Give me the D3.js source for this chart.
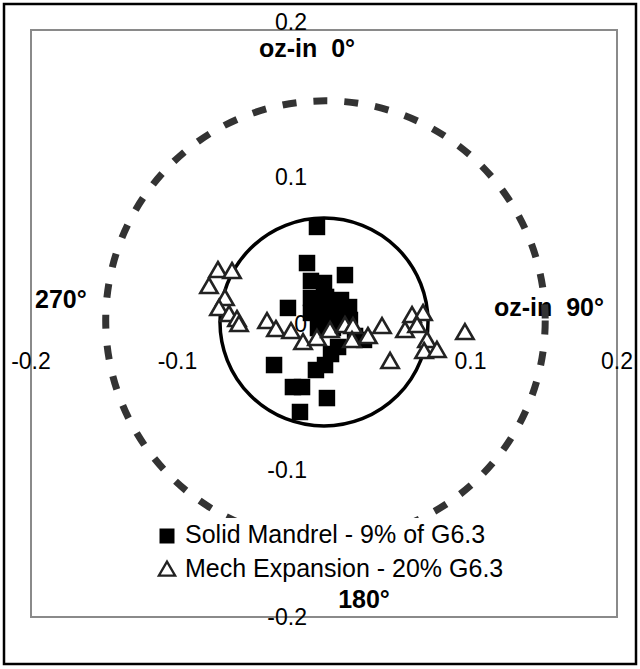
<html>
  <head>
    <title>Polar torque plot</title>
    <script type="text/javascript" src="https://d3js.org/d3.v7.min.js"></script>
    <style type="text/css">
      body { margin: 0; background: #fff; }
      text { font-family: "Liberation Sans", Arial, sans-serif; }
    </style>
  </head>
  <body>
    <script type="text/javascript">

      // Solid Mandrel - 9% of G6.3 (oz-in)
      var mandrelX = [-0.0048, -0.0116, 0.0143, -0.0089, 0.0000, -0.0246, -0.0089, 0.0014, 0.0116,
                      0.0171, -0.0089, 0.0014, 0.0116, 0.0177, -0.0041, 0.0061, 0.0212, 0.0273,
                      0.0096, 0.0048, -0.0341, -0.0055, 0.0007, -0.0212, -0.0150, 0.0020, -0.0164];
      var mandrelY = [0.0658, 0.0412, 0.0330, 0.0290, 0.0276, 0.0106, 0.0174, 0.0181, 0.0160,
                      0.0112, 0.0072, 0.0072, 0.0058, 0.0024, -0.0031, -0.0031, -0.0085, -0.0112,
                      -0.0160, -0.0208, -0.0283, -0.0317, -0.0283, -0.0433, -0.0433, -0.0508, -0.0603];

      // Mech Expansion - 20% G6.3 (oz-in)
      var expX = [-0.0724, -0.0628, -0.0785, -0.0676, -0.0717, -0.0648, -0.0594, -0.0580, -0.0389,
                  -0.0328, -0.0225, -0.0143, -0.0048, 0.0041, 0.0143, 0.0198, 0.0191, 0.0300,
                  0.0396, 0.0451, 0.0601, 0.0676, 0.0553, 0.0635, 0.0703, 0.0683, 0.0771, 0.0962];
      var expY = [0.0351, 0.0344, 0.0242, 0.0160, 0.0092, 0.0051, 0.0017, -0.0017, 0.0003,
                  -0.0051, -0.0065, -0.0140, -0.0112, -0.0058, -0.0024, -0.0031, -0.0126, -0.0099,
                  -0.0031, -0.0269, 0.0044, 0.0058, -0.0058, -0.0024, -0.0126, -0.0201, -0.0194, -0.0072];

      // reference circles: [cx, cy, r]
      var limitCircle = [0.001, 0.002, 0.150];
      var spreadCircle = [0.000, 0.001, 0.071];

      var xTicks = [-0.2, -0.1, 0.1, 0.2];
      var yTicks = [0.2, 0.1, 0, -0.1, -0.2];
      var legendNames = ["Solid Mandrel - 9% of G6.3", "Mech Expansion - 20% G6.3"];

      //Width and height
      var w = 640;
      var h = 669;

      var x = d3.scaleLinear().domain([-0.2, 0.2]).range([31, 617]);
      var y = d3.scaleLinear().domain([-0.2, 0.2]).range([617, 30]);
      var px = function(r) { return x(r) - x(0); };

      var svg = d3.select("body")
            .append("svg")
            .attr("width", w)
            .attr("height", h);

      //outer frame
      svg.append("rect")
         .attr("x", 4).attr("y", 4)
         .attr("width", w - 8).attr("height", h - 9)
         .attr("fill", "none").attr("stroke", "#000").attr("stroke-width", 2.5);

      //plot area
      svg.append("rect")
         .attr("x", x(-0.2)).attr("y", y(0.2))
         .attr("width", x(0.2) - x(-0.2)).attr("height", y(-0.2) - y(0.2))
         .attr("fill", "none").attr("stroke", "#8a8a8a").attr("stroke-width", 2);

      //tick labels
      svg.selectAll(".ylab")
         .data(yTicks)
         .enter()
         .append("text")
         .attr("x", x(0) - 17)
         .attr("y", function(d) { return y(d) + (d === 0.2 ? 0 : 8); })
         .attr("text-anchor", "end")
         .attr("font-size", 23)
         .text(function(d) { return d === 0 ? "0" : d.toFixed(1); });

      svg.selectAll(".xlab")
         .data(xTicks)
         .enter()
         .append("text")
         .attr("x", function(d) { return x(d); })
         .attr("y", y(0) + 45)
         .attr("text-anchor", "middle")
         .attr("font-size", 23)
         .text(function(d) { return d.toFixed(1); });

      //direction labels
      var dirs = [
        { t: "oz-in  0\u00b0", x: x(0) - 17, y: y(0.2) + 27, a: "middle" },
        { t: "oz-in  90\u00b0", x: x(0.116), y: y(0) - 8, a: "start" },
        { t: "270\u00b0", x: x(-0.2) + 4, y: y(0) - 16, a: "start" },
        { t: "180\u00b0", x: x(0) + 40, y: y(-0.2) - 9, a: "middle" }
      ];
      svg.selectAll(".dir")
         .data(dirs)
         .enter()
         .append("text")
         .attr("x", function(d) { return d.x; })
         .attr("y", function(d) { return d.y; })
         .attr("text-anchor", function(d) { return d.a; })
         .attr("font-size", 25)
         .attr("font-weight", "bold")
         .style("white-space", "pre")
         .text(function(d) { return d.t; });

      //circles
      svg.append("circle")
         .attr("cx", x(limitCircle[0])).attr("cy", y(limitCircle[1]))
         .attr("r", px(limitCircle[2]))
         .attr("fill", "none").attr("stroke", "#333")
         .attr("stroke-width", 7).attr("stroke-dasharray", "14 17");

      svg.append("circle")
         .attr("cx", x(spreadCircle[0])).attr("cy", y(spreadCircle[1]))
         .attr("r", px(spreadCircle[2]))
         .attr("fill", "none").attr("stroke", "#000").attr("stroke-width", 3.5);

      var square = d3.symbol().type(d3.symbolSquare).size(272);
      var triangle = d3.symbol().type(d3.symbolTriangle).size(130);

      svg.selectAll(".mandrel")
         .data(d3.range(mandrelX.length))
         .enter()
         .append("path")
         .attr("d", square)
         .attr("transform", function(i) { return "translate(" + x(mandrelX[i]) + "," + y(mandrelY[i]) + ")"; })
         .attr("fill", "#000");

      svg.selectAll(".exp")
         .data(d3.range(expX.length))
         .enter()
         .append("path")
         .attr("d", triangle)
         .attr("transform", function(i) { return "translate(" + x(expX[i]) + "," + y(expY[i]) + ")"; })
         .attr("fill", "#fff")
         .attr("stroke", "#222")
         .attr("stroke-width", 2.6);

      //legend
      var lg = svg.append("g").attr("transform", "translate(152,518)");
      lg.append("rect")
        .attr("width", 345).attr("height", 66)
        .attr("fill", "#fff");
      lg.append("path").attr("d", d3.symbol().type(d3.symbolSquare).size(225)).attr("transform", "translate(15,18)").attr("fill", "#000");
      lg.append("path").attr("d", d3.symbol().type(d3.symbolTriangle).size(115)).attr("transform", "translate(15,53)")
        .attr("fill", "#fff").attr("stroke", "#222").attr("stroke-width", 2.3);
      lg.selectAll(".lgt")
        .data(legendNames)
        .enter()
        .append("text")
        .attr("x", 33)
        .attr("y", function(d, i) { return 25 + i * 34; })
        .attr("font-size", 25)
        .text(function(d) { return d; });

    </script>
  </body>
</html>
